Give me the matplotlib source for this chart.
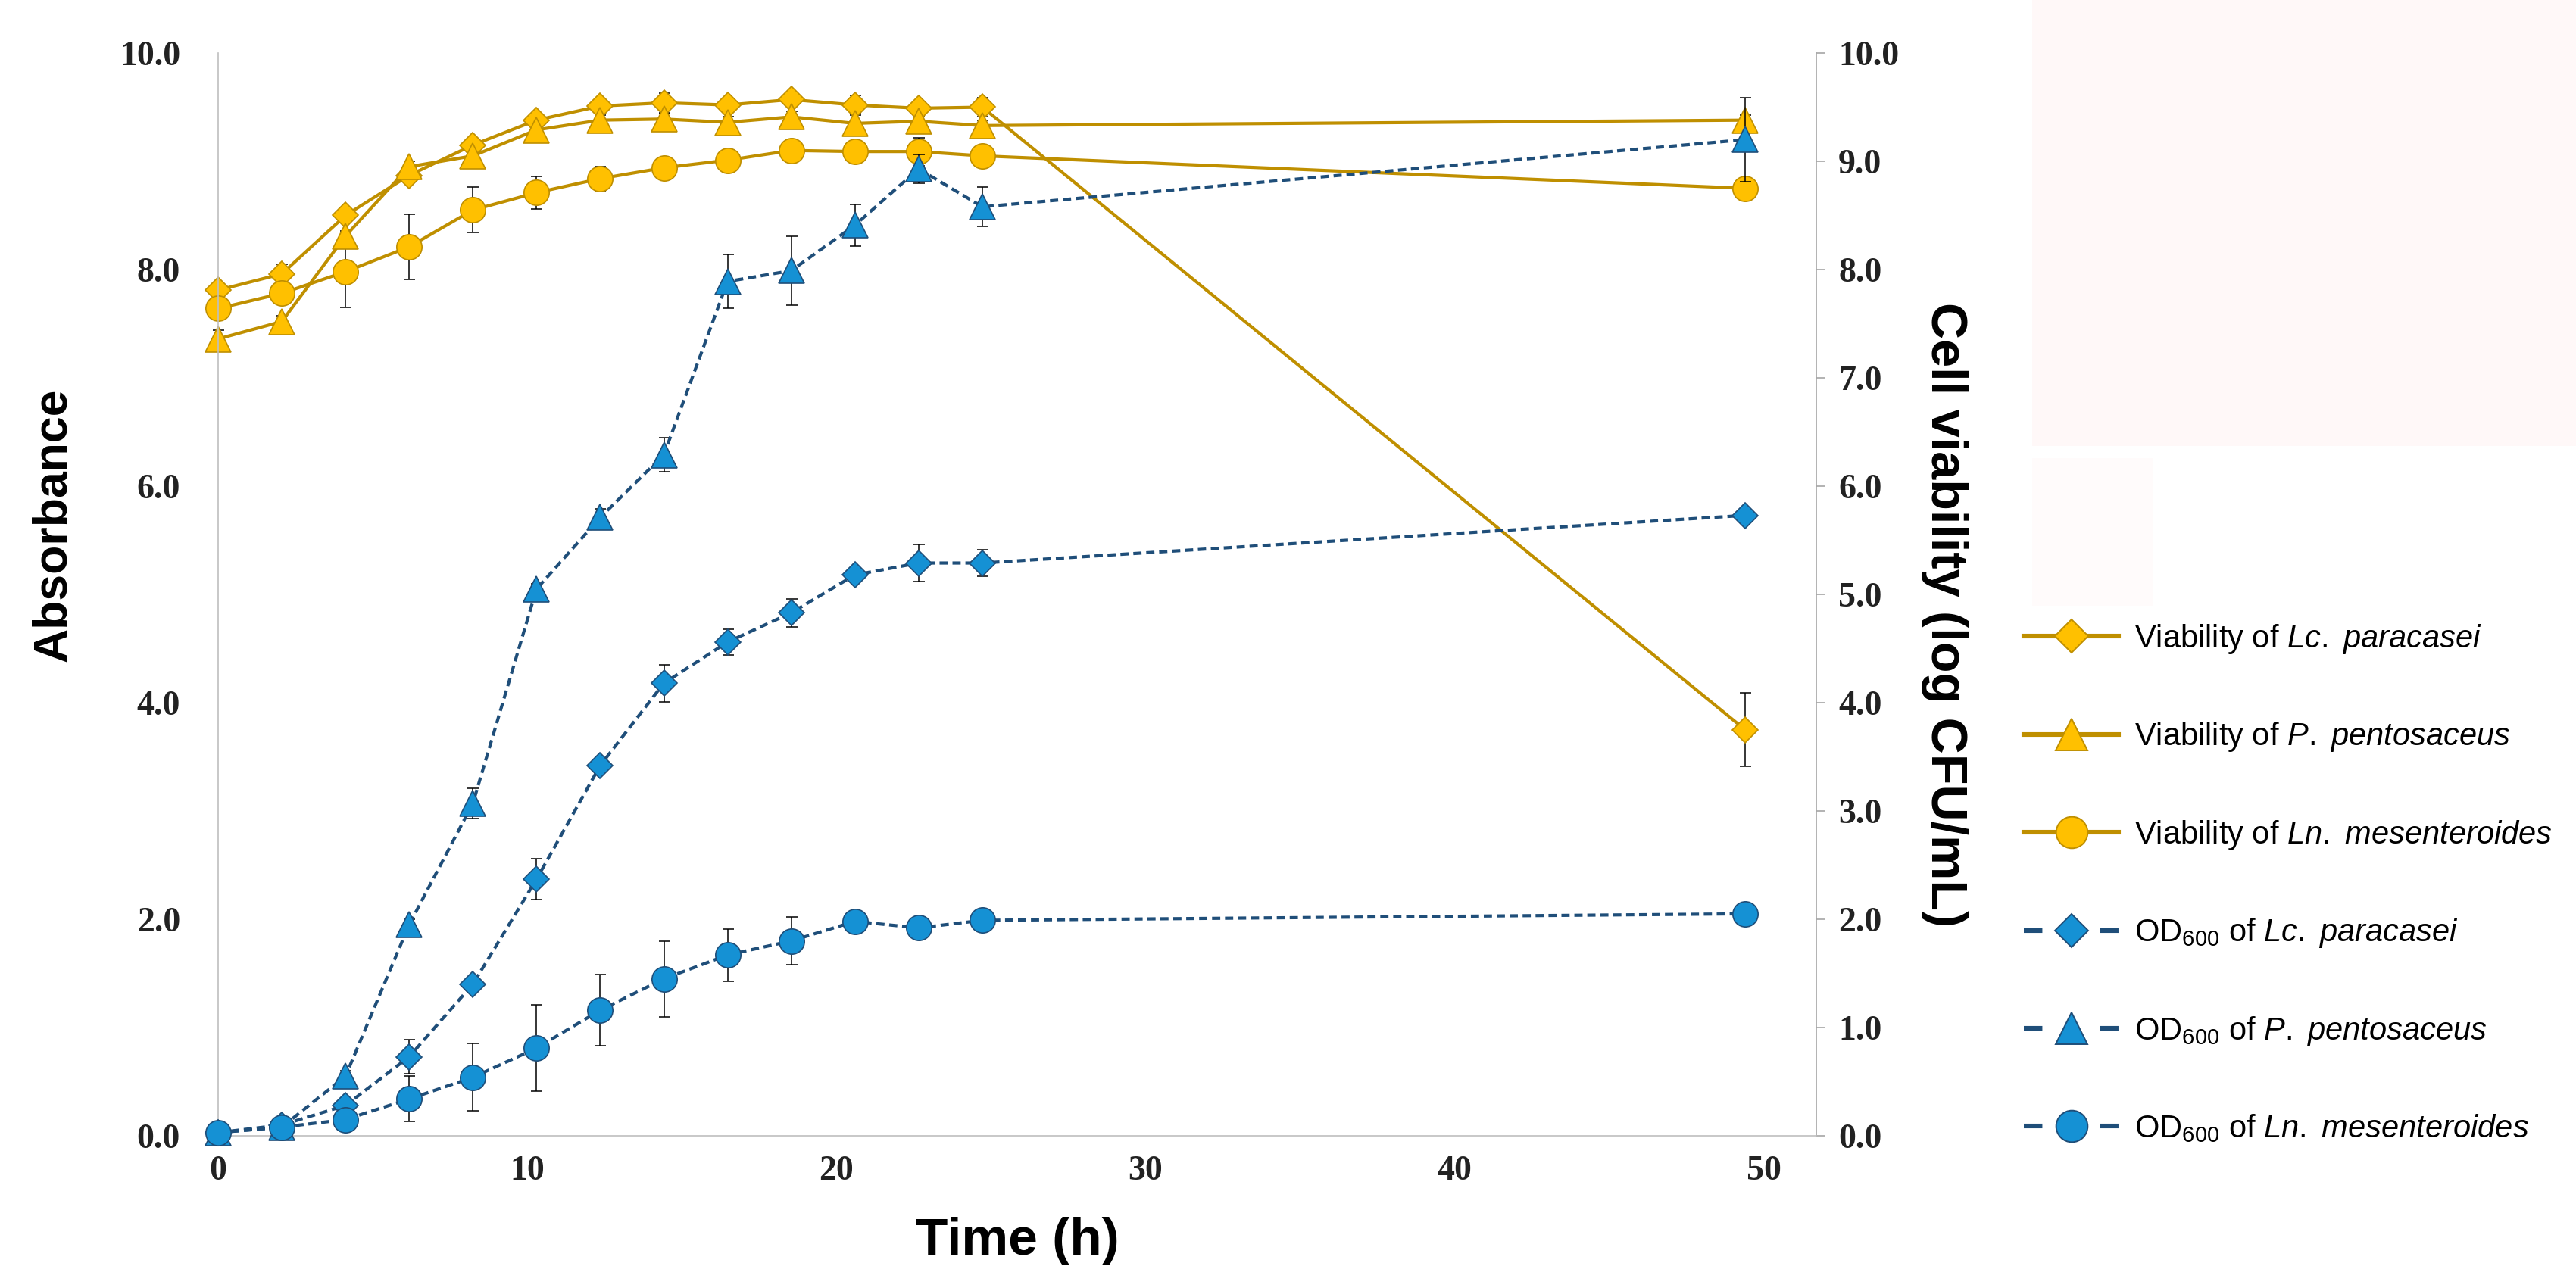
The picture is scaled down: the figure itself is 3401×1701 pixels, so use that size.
import matplotlib
matplotlib.use("Agg")
import matplotlib.pyplot as plt
from matplotlib.patches import Rectangle
from matplotlib.lines import Line2D

plt.rcParams['mathtext.fontset'] = 'custom'
plt.rcParams['mathtext.rm'] = 'Liberation Sans'
plt.rcParams['mathtext.it'] = 'Liberation Sans:italic'
plt.rcParams['font.family'] = ['Liberation Sans', 'DejaVu Sans']

# ---------------- data ----------------
time_h = [0, 2.06, 4.12, 6.18, 8.24, 10.3, 12.36, 14.42, 16.48, 18.54, 20.6, 22.66, 24.72, 49.4]

viab_lc = [7.81, 7.96, 8.50, 8.87, 9.15, 9.38, 9.51, 9.54, 9.52, 9.57, 9.52, 9.49, 9.50, 3.75]
viab_lc_err = [0.03, 0.09, 0.03, 0.03, 0.03, 0.03, 0.03, 0.09, 0.03, 0.03, 0.09, 0.03, 0.09, 0.34]
viab_pp = [7.36, 7.52, 8.31, 8.95, 9.05, 9.29, 9.38, 9.39, 9.36, 9.41, 9.35, 9.37, 9.33, 9.38]
viab_pp_err = [0.08, 0.05, 0.05, 0.05, 0.05, 0.05, 0.05, 0.05, 0.05, 0.05, 0.10, 0.05, 0.05, 0.05]
viab_ln = [7.64, 7.78, 7.98, 8.21, 8.55, 8.71, 8.84, 8.94, 9.01, 9.10, 9.09, 9.09, 9.05, 8.75]
viab_ln_err = [0.05, 0.10, 0.33, 0.30, 0.21, 0.15, 0.11, 0.05, 0.05, 0.05, 0.05, 0.13, 0.05, 0.05]

od_lc = [0.03, 0.10, 0.28, 0.73, 1.40, 2.37, 3.42, 4.18, 4.56, 4.83, 5.18, 5.29, 5.29, 5.73]
od_lc_err = [0.02, 0.02, 0.03, 0.16, 0.03, 0.19, 0.03, 0.17, 0.12, 0.13, 0.03, 0.17, 0.12, 0.05]
od_pp = [0.03, 0.08, 0.55, 1.95, 3.07, 5.05, 5.71, 6.29, 7.89, 7.99, 8.41, 8.93, 8.58, 9.20]
od_pp_err = [0.02, 0.03, 0.05, 0.05, 0.14, 0.05, 0.08, 0.16, 0.25, 0.32, 0.19, 0.13, 0.18, 0.39]
od_ln = [0.03, 0.08, 0.15, 0.34, 0.54, 0.81, 1.16, 1.45, 1.67, 1.80, 1.98, 1.92, 1.99, 2.05]
od_ln_err = [0.02, 0.02, 0.02, 0.21, 0.31, 0.40, 0.33, 0.35, 0.24, 0.22, 0.03, 0.02, 0.02, 0.02]

x_ticks = [0, 10, 20, 30, 40, 50]
left_ticks = [0, 2, 4, 6, 8, 10]
right_ticks = [0, 1, 2, 3, 4, 5, 6, 7, 8, 9, 10]

viab_labels = [r'Viability of $\mathit{Lc.}$ $\mathit{paracasei}$',
               r'Viability of $\mathit{P.}$ $\mathit{pentosaceus}$',
               r'Viability of $\mathit{Ln.}$ $\mathit{mesenteroides}$']
od_labels = [r'OD$_{\mathrm{600}}$ of $\mathit{Lc.}$ $\mathit{paracasei}$',
             r'OD$_{\mathrm{600}}$ of $\mathit{P.}$ $\mathit{pentosaceus}$',
             r'OD$_{\mathrm{600}}$ of $\mathit{Ln.}$ $\mathit{mesenteroides}$']

# ---------------- style ----------------
GOLD_LINE = '#BF8F00'
GOLD_FILL = '#FFC000'
NAVY_LINE = '#1F4E79'
BLUE_FILL = '#1591D4'

W, H, DPI = 3401, 1701, 200
fig = plt.figure(figsize=(W / DPI, H / DPI), dpi=DPI)
fig.patch.set_facecolor('white')
fig.add_artist(Rectangle((2683 / W, 1 - 589 / H), 1 - 2683 / W, 589 / H,
                         transform=fig.transFigure, facecolor='#FFF8F8',
                         edgecolor='none', zorder=0))
fig.add_artist(Rectangle((2683 / W, 1 - 800 / H), 160 / W, 195 / H,
                         transform=fig.transFigure, facecolor='#FFFBFB',
                         edgecolor='none', zorder=0))

ax = fig.add_axes([288 / W, 1 - 1500 / H, (2398 - 288) / W, (1500 - 70) / H])
ax2 = ax.twinx()
ax.set_zorder(ax2.get_zorder() + 1)
ax.patch.set_visible(False)

markers = ['D', '^', 'o']
msizes = [8.8, 12, 12]

def draw(axis, y, err, marker, ms, lc, fc, ls):
    axis.errorbar(time_h, y, yerr=err, fmt='none', ecolor='black', elinewidth=0.55,
                  capsize=2.7, capthick=0.55, zorder=2, clip_on=False)
    line, = axis.plot(time_h, y, color=lc, lw=1.5, linestyle=ls, marker=marker,
                      markersize=ms, markerfacecolor=fc, markeredgecolor=lc,
                      markeredgewidth=0.6, zorder=3, clip_on=False)
    if ls == '--':
        line.set_dashes((2.6, 1.5))
    return line

viab_data = [(viab_lc, viab_lc_err), (viab_pp, viab_pp_err), (viab_ln, viab_ln_err)]
od_data = [(od_lc, od_lc_err), (od_pp, od_pp_err), (od_ln, od_ln_err)]

for (y, e), m, s in zip(viab_data, markers, msizes):
    draw(ax2, y, e, m, s, GOLD_LINE, GOLD_FILL, '-')
for (y, e), m, s in zip(od_data, markers, msizes):
    draw(ax, y, e, m, s, NAVY_LINE, BLUE_FILL, '--')

# legend proxies (Excel-style short dashes on either side of the marker)
handles = []
for m, s in zip(markers, msizes):
    handles.append(Line2D([], [], color=GOLD_LINE, lw=2.2, marker=m, markersize=s * 1.25,
                          markerfacecolor=GOLD_FILL, markeredgecolor=GOLD_LINE,
                          markeredgewidth=0.7))
for m, s in zip(markers, msizes):
    h = Line2D([], [], color=NAVY_LINE, lw=2.2, marker=m, markersize=s * 1.25,
               markerfacecolor=BLUE_FILL, markeredgecolor=NAVY_LINE,
               markeredgewidth=0.7, linestyle='--')
    h.set_dashes((4.0, 12.45))
    handles.append(h)

for a in (ax, ax2):
    a.set_xlim(0, 51.7)
    a.set_ylim(0, 10)
    a.spines['top'].set_visible(False)

ax.spines['left'].set_color('#BFBFBF')
ax.spines['bottom'].set_color('#BFBFBF')
ax.spines['right'].set_visible(False)
ax.spines['left'].set_linewidth(0.6)
ax.spines['bottom'].set_linewidth(0.6)
ax2.spines['left'].set_visible(False)
ax2.spines['bottom'].set_visible(False)
ax2.spines['right'].set_color('#A6A6A6')
ax2.spines['right'].set_linewidth(0.6)

tick_font = dict(family='Liberation Serif', weight='bold', size=16.5)
ax.set_xticks(x_ticks)
ax.set_xticklabels([str(t) for t in x_ticks], **tick_font)
ax.set_yticks(left_ticks)
ax.set_yticklabels(['%.1f' % t for t in left_ticks], **tick_font)
ax2.set_yticks(right_ticks)
ax2.set_yticklabels(['%.1f' % t for t in right_ticks], **tick_font)
ax.tick_params(axis='x', length=0, pad=9.5, colors='#222222')
ax.tick_params(axis='y', length=0, pad=18, colors='#222222')
ax2.tick_params(axis='y', length=4, width=0.6, color='#A6A6A6', pad=6.5, labelcolor='#222222')

ax.set_xlabel('Time (h)', va='center', family='Liberation Sans', weight='bold', size=25)
ax.xaxis.set_label_coords(0.5, -0.097)
ax.set_ylabel('Absorbance', va='center', family='Liberation Sans', weight='bold', size=22.5)
ax.yaxis.set_label_coords(-0.1033, 0.564)
ax2.set_ylabel('Cell viability (log CFU/mL)', rotation=270, va='center',
               family='Liberation Sans', weight='bold', size=24)
ax2.yaxis.set_label_coords(1.08, 0.481)

labels = viab_labels + od_labels
leg = fig.legend(handles, labels, loc='upper left',
                 bbox_to_anchor=(2672 / W, 1 - 822 / H), frameon=False,
                 prop=dict(family='Liberation Sans', size=15),
                 handlelength=3.0, handletextpad=0.5, labelspacing=2.05,
                 borderpad=0, borderaxespad=0)

fig.savefig('out.png', dpi=DPI)
